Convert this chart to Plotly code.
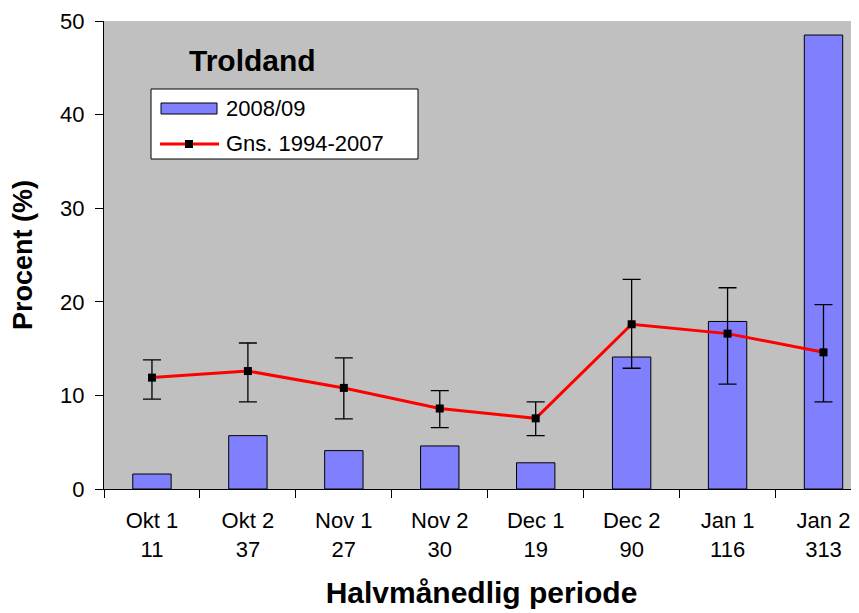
import plotly.graph_objects as go

periods = ["Okt 1", "Okt 2", "Nov 1", "Nov 2", "Dec 1", "Dec 2", "Jan 1", "Jan 2"]
counts = [11, 37, 27, 30, 19, 90, 116, 313]
season_2008 = [1.6, 5.7, 4.1, 4.6, 2.8, 14.1, 17.9, 48.5]
avg_1994_2007 = [11.9, 12.6, 10.8, 8.6, 7.55, 17.6, 16.6, 14.6]
err_upper = [13.8, 15.6, 14.0, 10.5, 9.3, 22.4, 21.5, 19.7]
err_lower = [9.6, 9.3, 7.5, 6.55, 5.7, 12.9, 11.2, 9.3]
series_names = ["2008/09", "Gns. 1994-2007"]

labels = [f"{p}<br>{c}" for p, c in zip(periods, counts)]
plus = [u - m for u, m in zip(err_upper, avg_1994_2007)]
minus = [m - l for m, l in zip(avg_1994_2007, err_lower)]

FONT = "Arial, Liberation Sans, sans-serif"
BAR_COLOR = "#8080FF"
LINE_COLOR = "#FF0000"

fig = go.Figure()
fig.add_trace(go.Bar(
    x=labels, y=season_2008, name=series_names[0],
    marker=dict(color=BAR_COLOR, line=dict(color="black", width=1)),
    width=0.4,
))
fig.add_trace(go.Scatter(
    x=labels, y=avg_1994_2007, name=series_names[1],
    mode="lines+markers",
    line=dict(color=LINE_COLOR, width=3),
    marker=dict(symbol="square", color="black", size=8),
    error_y=dict(type="data", symmetric=False, array=plus, arrayminus=minus,
                 color="black", thickness=1.3, width=9),
))

# plot area in screen pixels: x 104..859, y 21..489
def px(sx):
    return (sx - 104) / 755

def py(sy):
    return (489 - sy) / 468

shapes = [
    # legend box
    dict(type="rect", xref="paper", yref="paper",
         x0=px(151), x1=px(418), y0=py(159), y1=py(89),
         fillcolor="white", line=dict(color="black", width=1), layer="above"),
    # bar swatch
    dict(type="rect", xref="paper", yref="paper",
         x0=px(161), x1=px(217), y0=py(114), y1=py(103),
         fillcolor=BAR_COLOR, line=dict(color="black", width=1), layer="above"),
    # line swatch
    dict(type="line", xref="paper", yref="paper",
         x0=px(160), x1=px(219), y0=py(144), y1=py(144),
         line=dict(color=LINE_COLOR, width=3), layer="above"),
    # marker swatch
    dict(type="rect", xref="paper", yref="paper",
         x0=px(185), x1=px(193), y0=py(148), y1=py(140),
         fillcolor="black", line=dict(color="black", width=0), layer="above"),
]

annotations = [
    dict(text="<b>Troldand</b>", xref="paper", yref="paper",
         x=px(252), y=py(60), showarrow=False, xanchor="center", yanchor="middle",
         font=dict(family=FONT, size=30, color="black")),
    dict(text=series_names[0], xref="paper", yref="paper",
         x=px(224), y=py(108), showarrow=False, xanchor="left", yanchor="middle",
         font=dict(family=FONT, size=22, color="black")),
    dict(text=series_names[1], xref="paper", yref="paper",
         x=px(224), y=py(144), showarrow=False, xanchor="left", yanchor="middle",
         font=dict(family=FONT, size=22, color="black")),
]

fig.update_layout(
    width=851, height=605,
    margin=dict(l=96, r=0, t=13, b=124, pad=0),
    paper_bgcolor="white", plot_bgcolor="#C0C0C0",
    font=dict(family=FONT, size=22, color="black"),
    showlegend=False,
    shapes=shapes,
    annotations=annotations,
    xaxis=dict(
        range=[-0.5, 7.37],
        showline=True, linecolor="black", linewidth=1,
        ticks="outside", tickson="boundaries", ticklen=8, tickcolor="black",
        ticklabelstandoff=12,
        showgrid=False,
        tickfont=dict(family=FONT, size=22),
        title=dict(text="<b>Halvmånedlig periode</b>",
                   font=dict(family=FONT, size=30), standoff=20),
    ),
    yaxis=dict(
        range=[0, 50], dtick=10,
        showline=True, linecolor="black", linewidth=1,
        ticks="outside", ticklen=8, tickcolor="black",
        ticklabelstandoff=6,
        showgrid=False, zeroline=False,
        tickfont=dict(family=FONT, size=22),
        title=dict(text="<b>Procent (%)</b>",
                   font=dict(family=FONT, size=27), standoff=19),
    ),
)

fig.write_html("out.html")
